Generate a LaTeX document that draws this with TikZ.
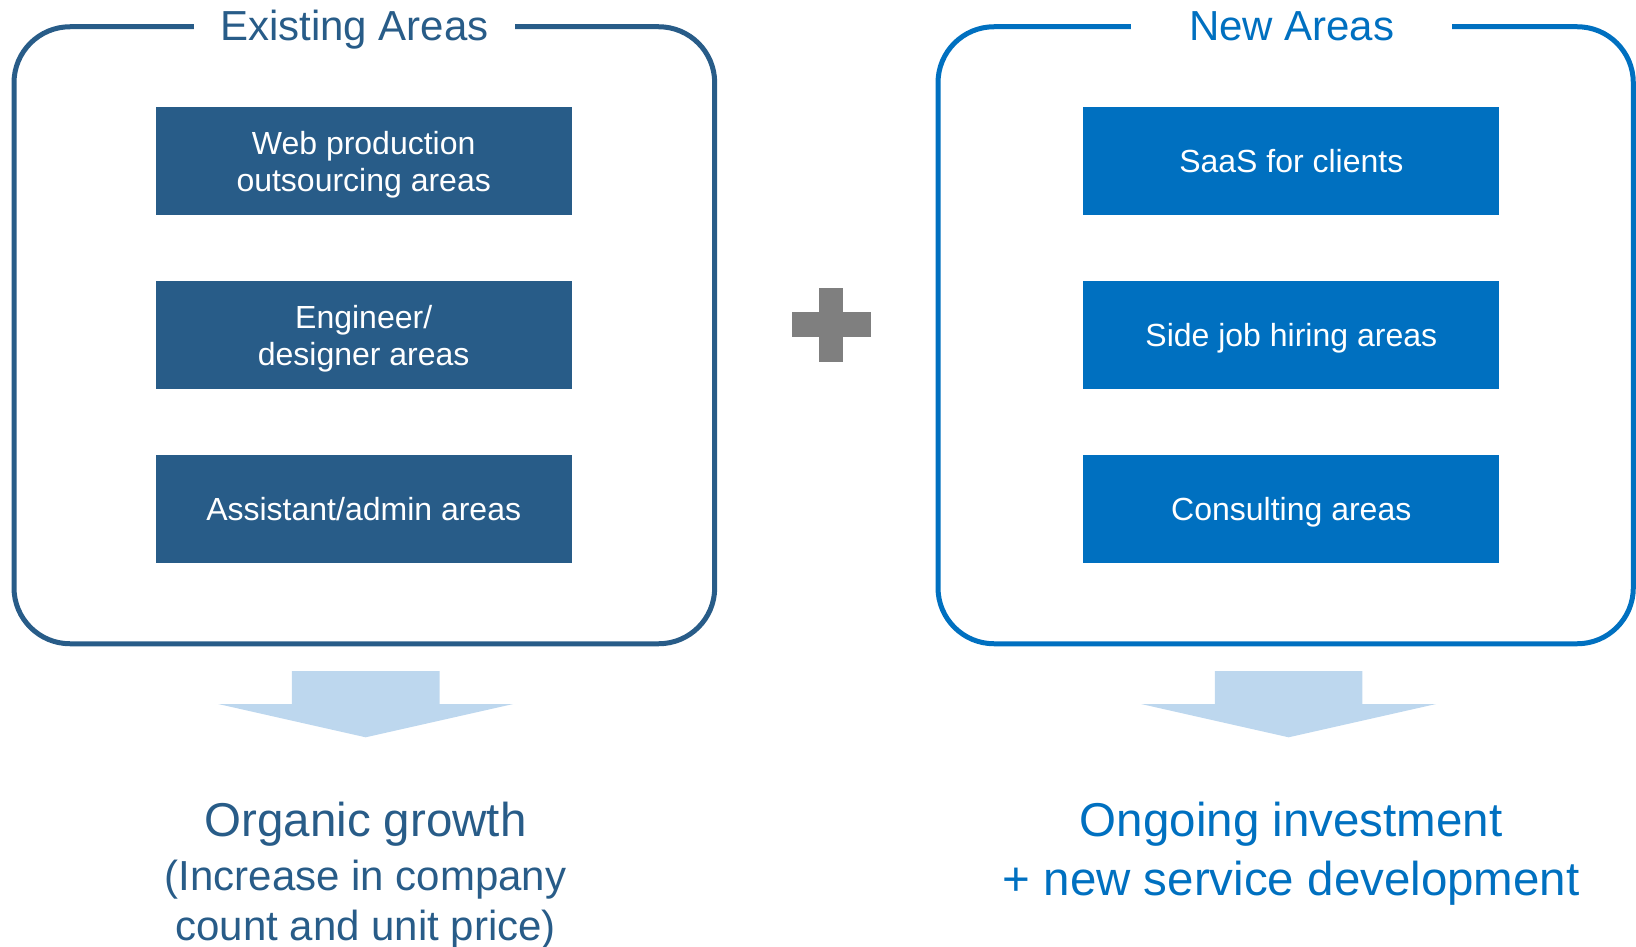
\documentclass[tikz,border=0pt]{standalone}
\usepackage{fontspec}
\setmainfont{Liberation Sans}
\usetikzlibrary{positioning}

\definecolor{oldblue}{RGB}{40,92,136}
\definecolor{newblue}{RGB}{0,112,192}
\definecolor{arrowblue}{RGB}{189,215,238}
\definecolor{plusgray}{RGB}{127,127,127}

\tikzset{
	areaframe/.style  = {draw, line width=5pt, rounded corners=56pt,
		minimum height=617pt},
	frametitle/.style = {fill=white, minimum width=321pt, anchor=base,
		font=\fontsize{42}{50}\selectfont},
	areabox/.style    = {minimum width=416pt, minimum height=107.5pt,
		text=white, align=center, text depth=-1pt,
		font=\fontsize{32}{37}\selectfont},
	resulttext/.style = {anchor=base, align=center}
}
% block arrow pointing down, centred on x = #1
\newcommand{\growtharrow}[1]{
	\fill[arrowblue] (#1-73.8,671) -- (#1+73.8,671) -- (#1+73.8,704)
	-- (#1+147.5,704) -- (#1,737.3) -- (#1-147.5,704) -- (#1-73.8,704) -- cycle;}

\begin{document}
\begin{tikzpicture}[x=1pt, y=-1pt, node distance=66pt]
	\useasboundingbox (0,0) rectangle (1636,947);

	% existing areas
	\node[areaframe, draw=oldblue, minimum width=700.7pt] (oldframe) at (364.35,335.25) {};
	\node[frametitle, text=oldblue] (oldtitle) at (354.5,40.7) {Existing Areas};
	\node[areabox, fill=oldblue] (web) at (363.7,161.2) {Web production\\outsourcing areas};
	\node[areabox, fill=oldblue, below=of web] (eng) {Engineer/\\designer areas};
	\node[areabox, fill=oldblue, below=of eng] (assist) {Assistant/admin areas};

	% new areas
	\node[areaframe, draw=newblue, minimum width=695.3pt] (newframe) at (1285.65,335.25) {};
	\node[frametitle, text=newblue] (newtitle) at (1291.7,40.7) {New Areas};
	\node[areabox, fill=newblue] (saas) at (1291.3,161.2) {SaaS for clients};
	\node[areabox, fill=newblue, below=of saas] (sidejob) {Side job hiring areas};
	\node[areabox, fill=newblue, below=of sidejob] (consult) {Consulting areas};

	% plus sign
	\fill[plusgray] (792,312) rectangle (871,337);
	\fill[plusgray] (819,288) rectangle (843,362);

	\growtharrow{365.7}
	\growtharrow{1288.6}

	% outcomes (base of a two-line node is its last line)
	\node[resulttext, text=oldblue, font=\fontsize{47.5}{57}\selectfont] (organic) at (365.5,836.7) {Organic growth};
	\node[resulttext, text=oldblue, font=\fontsize{42}{50}\selectfont] (organicnote) at (365.6,940) {(Increase in company\\count and unit price)};
	\node[resulttext, text=newblue, font=\fontsize{47.5}{58.3}\selectfont] (invest) at (1291.2,895) {Ongoing investment\\+ new service development};
\end{tikzpicture}
\end{document}
